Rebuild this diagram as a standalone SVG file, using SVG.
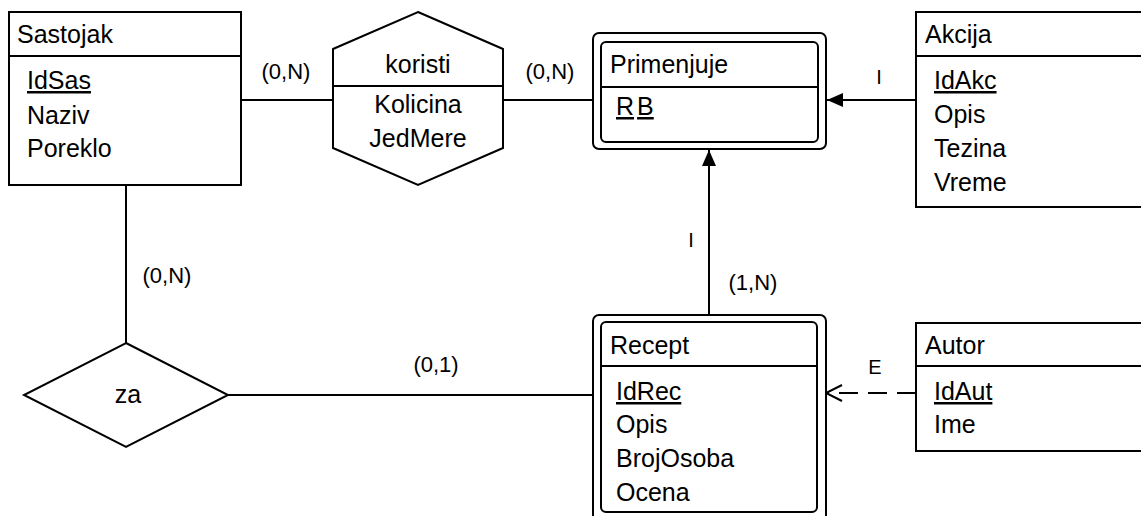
<svg xmlns="http://www.w3.org/2000/svg" width="1141" height="516" viewBox="0 0 1141 516">
<defs>
<style>
.box{fill:#fff;stroke:#000;stroke-width:2}
.ln{fill:none;stroke:#000;stroke-width:2}
.t{font-family:"Liberation Sans",Arial,sans-serif;font-size:25px;fill:#000}
.c{text-anchor:middle}
.lb{font-family:"Liberation Sans",Arial,sans-serif;font-size:22px;fill:#000;text-anchor:middle}
.sm{font-family:"Liberation Sans",Arial,sans-serif;font-size:20px;fill:#000;text-anchor:middle}
.u{text-decoration:underline}
</style>
<marker id="fill" markerWidth="16" markerHeight="14" refX="16" refY="7" orient="auto" markerUnits="userSpaceOnUse">
<path d="M0,0 L16,7 L0,14 Z" fill="#000"/>
</marker>
<marker id="open" markerWidth="20" markerHeight="20" refX="17" refY="10" orient="auto" markerUnits="userSpaceOnUse">
<path d="M1,2 L17,10 L1,18" fill="none" stroke="#000" stroke-width="2"/>
</marker>
</defs>
<rect width="1141" height="516" fill="#fff"/>

<g id="connectors">
<line class="ln" x1="241" y1="100" x2="333" y2="100"/>
<line class="ln" x1="503" y1="100" x2="593" y2="100"/>
<line class="ln" x1="916" y1="100" x2="827" y2="100" marker-end="url(#fill)"/>
<line class="ln" x1="709" y1="315" x2="709" y2="150" marker-end="url(#fill)"/>
<line class="ln" x1="916" y1="393" x2="826" y2="393" stroke-dasharray="19,10" marker-end="url(#open)"/>
<line class="ln" x1="126" y1="185" x2="126" y2="343"/>
<line class="ln" x1="228" y1="395" x2="593" y2="395"/>
<text class="lb" x="286" y="79">(0,N)</text>
<text class="lb" x="550" y="79">(0,N)</text>
<text class="sm" x="879" y="84">I</text>
<text class="sm" x="691" y="247">I</text>
<text class="lb" x="753" y="290">(1,N)</text>
<text class="lb" x="167" y="283">(0,N)</text>
<text class="lb" x="436" y="372">(0,1)</text>
<text class="sm" x="875" y="374">E</text>
</g>

<g id="sastojak">
<rect class="box" x="9" y="12" width="232" height="173"/>
<line class="ln" x1="9" y1="56" x2="241" y2="56"/>
<text class="t" x="17" y="43">Sastojak</text>
<text class="t u" x="27" y="89">IdSas</text>
<text class="t" x="27" y="124">Naziv</text>
<text class="t" x="27" y="157">Poreklo</text>
</g>

<g id="koristi">
<polygon class="box" points="418,12 503,49 503,148 418,185 333,148 333,49"/>
<line class="ln" x1="333" y1="86" x2="503" y2="86"/>
<text class="t c" x="418" y="73">koristi</text>
<text class="t c" x="418" y="113">Kolicina</text>
<text class="t c" x="418" y="147">JedMere</text>
</g>

<g id="primenjuje">
<rect class="box" x="593" y="33" width="233" height="116" rx="6"/>
<rect class="box" x="601" y="42" width="217" height="100" rx="5"/>
<line class="ln" x1="601" y1="87" x2="818" y2="87"/>
<text class="t" x="610" y="73">Primenjuje</text>
<text class="t" x="616" y="115"><tspan class="u">R</tspan><tspan class="u" dx="3">B</tspan></text>
</g>

<g id="akcija">
<rect class="box" x="916" y="12" width="240" height="195"/>
<line class="ln" x1="916" y1="56" x2="1156" y2="56"/>
<text class="t" x="925" y="43">Akcija</text>
<text class="t u" x="934" y="89">IdAkc</text>
<text class="t" x="934" y="123">Opis</text>
<text class="t" x="934" y="157">Tezina</text>
<text class="t" x="934" y="191">Vreme</text>
</g>

<g id="za">
<polygon class="box" points="126,343 228,395 126,447 24,395"/>
<text class="t c" x="128" y="403">za</text>
</g>

<g id="recept">
<rect class="box" x="593" y="315" width="233" height="215" rx="6"/>
<rect class="box" x="601" y="322" width="216" height="190" rx="5"/>
<line class="ln" x1="601" y1="366" x2="817" y2="366"/>
<text class="t" x="610" y="354">Recept</text>
<text class="t u" x="616" y="400">IdRec</text>
<text class="t" x="616" y="433">Opis</text>
<text class="t" x="616" y="467">BrojOsoba</text>
<text class="t" x="616" y="501">Ocena</text>
</g>

<g id="autor">
<rect class="box" x="916" y="323" width="240" height="128"/>
<line class="ln" x1="916" y1="366" x2="1156" y2="366"/>
<text class="t" x="925" y="354">Autor</text>
<text class="t u" x="934" y="400">IdAut</text>
<text class="t" x="934" y="433">Ime</text>
</g>
</svg>
